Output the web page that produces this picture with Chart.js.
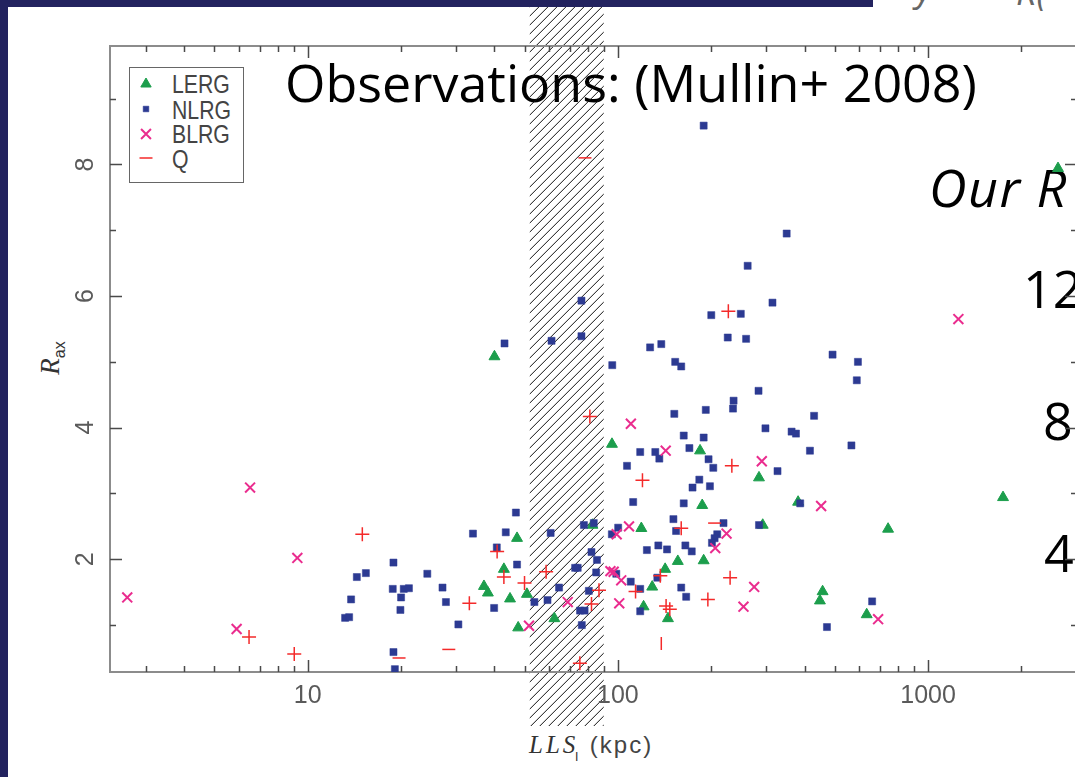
<!DOCTYPE html>
<html>
<head>
<meta charset="utf-8">
<script src="https://cdn.jsdelivr.net/npm/chart.js@4.4.1/dist/chart.umd.min.js"></script>
<style>
  html, body { margin: 0; padding: 0; background: #fff; overflow: hidden; }
  body { width: 1075px; height: 777px; position: relative; font-family: 'Open Sans', 'Noto Sans', sans-serif; }
  .navy { position: absolute; background: #23235f; }
  .txt { position: absolute; white-space: nowrap; }
  .slide { font-size: 52px; line-height: 60px; height: 60px; color: #000; }
  .leg { font-family: 'Liberation Sans', sans-serif; font-size: 25px; line-height: 30px; height: 30px; color: #444;
         transform: scaleX(0.85); transform-origin: left center; }
  #plot { position: absolute; left: 0; top: 0; z-index: 5; }
</style>
</head>
<body>
<div class="navy" style="left:0;top:0;width:873px;height:7px"></div>
<div class="navy" style="left:0;top:0;width:8px;height:777px"></div>

<div class="txt" style="left:916px;top:-37px;font-size:36px;color:#666;font-style:italic">y</div>
<div class="txt" style="left:1016px;top:-33px;font-size:36px;color:#666;font-style:italic">R(</div>

<div class="txt slide" style="left:285px;top:52px">Observations: (Mullin+ 2008)</div>
<div class="txt slide" style="left:929px;top:157px;font-style:italic;letter-spacing:1.5px">Our R</div>
<div class="txt slide" style="left:1023px;top:258px">12</div>
<div class="txt slide" style="left:1043px;top:390px">8</div>
<div class="txt slide" style="left:1044px;top:522px">4</div>

<div class="txt" style="left:129px;top:67px;width:113px;height:114px;border:1.5px solid #666"></div>
<div class="txt leg" style="left:172px;top:69px">LERG</div>
<div class="txt leg" style="left:172px;top:95px">NLRG</div>
<div class="txt leg" style="left:172px;top:119px">BLRG</div>
<div class="txt leg" style="left:172px;top:144px">Q</div>

<div class="txt" style="left:25px;top:343px;width:50px;height:30px;line-height:30px;text-align:center;transform:rotate(-90deg);color:#333">
  <span style="font-family:'Liberation Serif',serif;font-style:italic;font-size:27px">R</span><span style="font-family:'Liberation Sans',sans-serif;font-size:16px;position:relative;top:6px">ax</span>
</div>
<div class="txt" style="left:529px;top:730px;height:30px;line-height:30px;color:#333">
  <span style="font-family:'Liberation Serif',serif;font-style:italic;font-size:25px;letter-spacing:3px">LLS</span><span style="font-family:'Liberation Sans',sans-serif;font-size:13px;position:relative;top:8px;left:-3px">l</span><span style="font-family:'Liberation Sans',sans-serif;font-size:24px;color:#444;letter-spacing:2px"> (kpc)</span>
</div>

<canvas id="plot" width="1080" height="777"></canvas>

<script>
// LERG
const lergX = [40.0, 37.0, 38.1, 42.9, 47.3, 44.9, 50.9, 47.7, 62.4, 82.8, 95.7, 119, 129, 121, 142, 145, 156, 184, 187, 189, 285, 293, 381, 457, 448, 634, 743, 1744, 2623];
const lergY = [5.08, 1.59, 1.49, 1.85, 2.32, 1.40, 1.47, 0.96, 1.10, 2.52, 3.75, 2.47, 1.58, 1.28, 1.85, 1.10, 1.97, 3.65, 2.82, 1.98, 3.24, 2.52, 2.87, 1.51, 1.37, 1.16, 2.46, 2.94, 7.94];

// NLRG
const nlrgX = [18.9, 14.4, 15.4, 13.8, 13.2, 13.6, 18.8, 20.4, 21.2, 20.0,
  19.9, 24.3, 27.2, 27.9, 30.6, 18.9, 19.1, 34.1, 40.7, 43.5,
  46.9, 47.3, 39.9, 43.1, 61.1, 76.3, 76.3, 60.7, 77.7, 83.6,
  95.6, 100.2, 82.2, 85.6, 72.8, 74.2, 85.1, 64.6, 80.6, 53.8,
  59.3, 75.5, 78.1, 76.5, 189, 350, 262, 315, 200, 249,
  226, 259, 127, 138, 95.9, 153, 160, 492, 594, 589,
  284, 236, 235, 192, 152, 429, 299, 363, 375, 163,
  189, 566, 118, 132, 136, 170, 416, 196, 203, 107,
  327, 183, 174, 198, 112, 163, 387, 151, 154, 219,
  209, 205, 201, 285, 124, 135, 144, 165, 173, 134,
  98.8, 110, 118, 160, 166, 118, 660, 472];
const nlrgY = [1.95, 1.73, 1.79, 1.39, 1.11, 1.12, 1.55, 1.55, 1.56, 1.42,
  1.23, 1.78, 1.57, 1.35, 1.01, 0.59, 0.33, 2.39, 2.18, 2.41,
  2.71, 1.92, 1.26, 5.28, 5.32, 5.93, 5.39, 2.40, 2.52, 2.55,
  2.38, 2.48, 2.11, 1.99, 1.87, 1.87, 1.80, 1.57, 1.52, 1.35,
  1.38, 1.22, 1.22, 1.00, 8.59, 6.95, 6.46, 5.90, 5.71, 5.73,
  5.37, 5.35, 5.22, 5.27, 4.95, 5.00, 4.93, 5.11, 5.00, 4.72,
  4.56, 4.41, 4.29, 4.27, 4.21, 4.18, 3.99, 3.94, 3.91, 3.88,
  3.85, 3.73, 3.63, 3.63, 3.53, 3.69, 3.65, 3.52, 3.39, 3.42,
  3.34, 3.21, 3.09, 3.11, 2.87, 2.85, 2.85, 2.61, 2.43, 2.55,
  2.38, 2.32, 2.25, 2.52, 2.14, 2.21, 2.15, 2.21, 2.12, 1.72,
  1.78, 1.66, 1.55, 1.57, 1.43, 1.21, 1.36, 0.97];

// BLRG
const blrgX = [2.62, 6.52, 9.26, 5.90, 51.7, 68.9, 94.6, 96.9, 99.1, 108.6, 102.5, 101.0, 110.1, 142.6, 206, 224, 291, 275, 254, 452, 690, 1252];
const blrgY = [1.42, 3.09, 2.02, 0.94, 0.99, 1.35, 1.82, 1.81, 2.38, 2.50, 1.68, 1.33, 4.06, 3.65, 2.17, 2.39, 3.49, 1.58, 1.28, 2.81, 1.09, 5.65];

// Q (crosses, plus the dash-only and bar-only marks)
const qX = [6.47, 9.05, 15.0, 33.2, 40.8, 42.9, 50.0, 58.7, 86.9, 82.2, 75.4, 81.2, 227, 120, 160, 233, 137, 114, 230, 195, 143, 147];
const qY = [0.82, 0.56, 2.38, 1.33, 2.12, 1.73, 1.64, 1.81, 1.53, 1.32, 0.42, 4.17, 5.77, 3.20, 2.47, 3.42, 1.75, 1.51, 1.72, 1.39, 1.29, 1.24];
const qDashX = [19.7, 28.5, 78.3, 205];
const qDashY = [0.50, 0.63, 8.10, 2.55];
const qBarX = [138];
const qBarY = [0.72];

// axes
const xTickValues = [10, 100, 1000];
const xTickLabels = ['10', '100', '1000'];
const xMinorTicks = [3, 4, 5, 6, 7, 8, 9, 20, 30, 40, 50, 60, 70, 80, 90, 200, 300, 400, 500, 600, 700, 800, 900, 2000, 3000];
const yTickValues = [2, 4, 6, 8];
const yTickLabels = ['2', '4', '6', '8'];
const yMinorTicks = [1, 3, 5, 7, 9];
const hatchRange = [52, 90];

const LERG_COLOR = '#1c9e4c';
const NLRG_COLOR = '#2c3a92';
const BLRG_COLOR = '#ea2c8e';
const Q_COLOR = '#f42a2a';

function toPoints(xs, ys) {
    return xs.map((x, i) => ({ x: x, y: ys[i] }));
}

const axesFrame = {
    id: 'axesFrame',
    beforeDatasetsDraw(chart) {
        const { ctx, chartArea: a } = chart;
        const sx = chart.scales.x, sy = chart.scales.y;

        // hatched band
        const h0 = sx.getPixelForValue(hatchRange[0]);
        const h1 = sx.getPixelForValue(hatchRange[1]);
        const top = 7, bottom = 726;
        ctx.save();
        ctx.beginPath();
        ctx.rect(h0, top, h1 - h0, bottom - top);
        ctx.clip();
        ctx.strokeStyle = '#111';
        ctx.lineWidth = 1;
        ctx.beginPath();
        const span = bottom - top;
        for (let s = h0 - span; s < h1 + 10; s += 9) {
            ctx.moveTo(s, bottom);
            ctx.lineTo(s + span, top);
        }
        ctx.stroke();
        ctx.restore();

        // frame
        ctx.save();
        ctx.strokeStyle = '#8c8c8c';
        ctx.lineWidth = 2;
        ctx.strokeRect(a.left, a.top, a.right - a.left, a.bottom - a.top);

        // inward ticks
        ctx.strokeStyle = '#4a4a4a';
        ctx.lineWidth = 1.5;
        ctx.beginPath();
        const xTick = (v, len) => {
            const px = Math.round(sx.getPixelForValue(v)) + 0.5;
            ctx.moveTo(px, a.bottom); ctx.lineTo(px, a.bottom - len);
            ctx.moveTo(px, a.top); ctx.lineTo(px, a.top + len);
        };
        const yTick = (v, len) => {
            const py = Math.round(sy.getPixelForValue(v)) + 0.5;
            ctx.moveTo(a.left, py); ctx.lineTo(a.left + len, py);
            ctx.moveTo(a.right, py); ctx.lineTo(a.right - len, py);
        };
        xTickValues.forEach(v => xTick(v, 12));
        xMinorTicks.forEach(v => xTick(v, 6));
        yTickValues.forEach(v => yTick(v, 12));
        yMinorTicks.forEach(v => yTick(v, 6));
        ctx.stroke();

        // tick labels
        ctx.fillStyle = '#5a5a5a';
        ctx.font = '25px "Liberation Sans", Arial, sans-serif';
        ctx.textAlign = 'center';
        ctx.textBaseline = 'alphabetic';
        xTickValues.forEach((v, i) => {
            ctx.fillText(xTickLabels[i], sx.getPixelForValue(v), 703);
        });
        yTickValues.forEach((v, i) => {
            ctx.save();
            ctx.translate(93, sy.getPixelForValue(v));
            ctx.rotate(-Math.PI / 2);
            ctx.fillText(yTickLabels[i], 0, 0);
            ctx.restore();
        });
        ctx.restore();
    },
    afterDatasetsDraw(chart) {
        // legend markers
        const { ctx } = chart;
        const items = [
            { style: 'triangle', radius: 6, color: LERG_COLOR, width: 1, y: 84 },
            { style: 'rect', radius: 4, color: NLRG_COLOR, width: 0.5, y: 109 },
            { style: 'crossRot', radius: 7, color: BLRG_COLOR, width: 2, y: 134 },
            { style: 'line', radius: 6.5, color: Q_COLOR, width: 1.5, y: 158 }
        ];
        ctx.save();
        items.forEach(it => {
            ctx.fillStyle = it.color;
            ctx.strokeStyle = it.color;
            ctx.lineWidth = it.width;
            Chart.helpers.drawPoint(ctx, { pointStyle: it.style, rotation: 0, radius: it.radius, borderWidth: it.width }, 146, it.y);
        });
        ctx.restore();
    }
};

new Chart(document.getElementById('plot').getContext('2d'), {
    type: 'scatter',
    data: {
        datasets: [
            {
                label: 'LERG', data: toPoints(lergX, lergY), order: 4,
                pointStyle: 'triangle', pointRadius: 6.3,
                backgroundColor: LERG_COLOR, borderColor: LERG_COLOR, borderWidth: 1
            },
            {
                label: 'NLRG', data: toPoints(nlrgX, nlrgY), order: 3,
                pointStyle: 'rect', pointRadius: 5,
                backgroundColor: NLRG_COLOR, borderColor: NLRG_COLOR, borderWidth: 0.5
            },
            {
                label: 'BLRG', data: toPoints(blrgX, blrgY), order: 2,
                pointStyle: 'crossRot', pointRadius: 7,
                backgroundColor: BLRG_COLOR, borderColor: BLRG_COLOR, borderWidth: 2
            },
            {
                label: 'Q', data: toPoints(qX, qY), order: 1,
                pointStyle: 'cross', pointRadius: 7,
                backgroundColor: Q_COLOR, borderColor: Q_COLOR, borderWidth: 1.5
            },
            {
                label: 'Q (dash)', data: toPoints(qDashX, qDashY), order: 1,
                pointStyle: 'line', pointRadius: 6.5,
                backgroundColor: Q_COLOR, borderColor: Q_COLOR, borderWidth: 1.5
            },
            {
                label: 'Q (bar)', data: toPoints(qBarX, qBarY), order: 1,
                pointStyle: 'line', pointRotation: 90, pointRadius: 6.5,
                backgroundColor: Q_COLOR, borderColor: Q_COLOR, borderWidth: 1.5
            }
        ]
    },
    options: {
        responsive: false,
        animation: false,
        devicePixelRatio: 1,
        layout: { autoPadding: false, padding: { left: 110, top: 46, right: 3, bottom: 105 } },
        plugins: { legend: { display: false }, tooltip: { enabled: false } },
        scales: {
            x: { type: 'logarithmic', min: 2.305, max: 3020, display: false },
            y: { type: 'linear', min: 0.287, max: 9.80, display: false }
        }
    },
    plugins: [axesFrame]
});
</script>
</body>
</html>
